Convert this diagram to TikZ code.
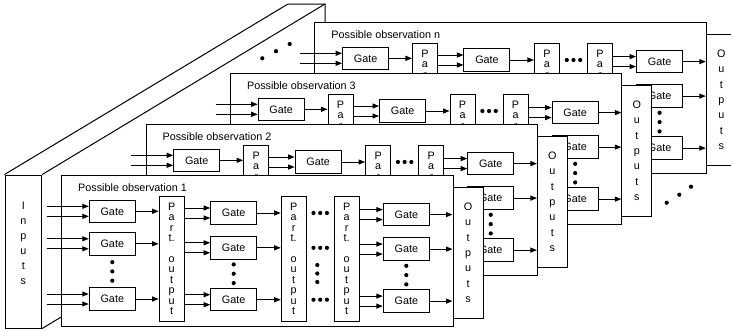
\documentclass[tikz,border=0pt]{standalone}
\usepackage{fontspec}
\setmainfont{Liberation Sans}
\usetikzlibrary{arrows.meta,calc}
\begin{document}
\begin{tikzpicture}[x=1pt,y=-1pt,line width=1pt,
  every node/.style={inner sep=0pt,font=\fontsize{10.8}{13}\selectfont},
  box/.style={draw,fill=white},
  gatebox/.style={box,minimum width=46pt,minimum height=22.5pt},
  partbox/.style={box,minimum width=25pt,minimum height=124.5pt,align=center,font=\fontsize{10.8}{10.4}\selectfont},
  outbox/.style={box,minimum width=30pt,minimum height=131.5pt,align=center,font=\fontsize{10.8}{15.4}\selectfont},
  framebox/.style={box,minimum width=391.3pt,minimum height=151pt},
  arr/.style={-{Triangle[length=6.5pt,width=5pt]}},
]
\useasboundingbox (0,0) rectangle (731,330);
% inputs prism
\node[draw,minimum width=36.7pt,minimum height=153pt] (inputs) at (23.35,251.5) {};
\node[align=center,font=\fontsize{10.8}{15}\selectfont] (inputstext) at (23.35,243.5) {I\\n\\p\\u\\t\\s};
\coordinate (bnw) at (288,4);
\coordinate (bne) at (325,4);
\coordinate (bse) at (325,157);
\draw (inputs.north west) -- (bnw) -- (bne) -- (bse) -- (inputs.south east);
\draw (inputs.north east) -- (bne);
\fill (262.3,58.3) circle (2.1) (276,51.2) circle (2.1) (289.7,44) circle (2.1);
\fill (666.7,202.7) circle (2.1) (679.3,194.7) circle (2.1) (691,186.7) circle (2.1);
% layers, back to front
\foreach \k/\lab in {3/n,2/3,1/2,0/1}{
 \begin{scope}[shift={(84.43*\k,-51*\k)}]
  \node[framebox] (fr\k) at (257.35,250.5) {};
  \node[anchor=base west] (title\k) at (77.7,191.5) {Possible observation \lab};
  \node[outbox] (out\k) at (468,252.75) {O\\u\\t\\p\\u\\t\\s};
  \coordinate (inx\k) at (46.7,0);
  \coordinate (hdx\k) at (320.2,0);
  \foreach \r/\y in {1/211.3,2/243.8,3/299}{\node[gatebox] (g\k-1-\r) at (112.3,\y) {Gate};}
  \foreach \r/\y in {1/213,2/247.8,3/299.7}{\node[gatebox] (g\k-2-\r) at (233.7,\y) {Gate};}
  \foreach \r/\y in {1/214.6,2/249.1,3/301.1}{\node[gatebox] (g\k-3-\r) at (406.3,\y) {Gate};}
  \foreach \i/\x in {1/171.7,2/293.7,3/346.7}{\node[partbox] (p\k-\i) at (\x,258.75) {P\\a\\r\\t.\\[10.4pt]o\\u\\t\\p\\u\\t};}
  \foreach \r in {1,2,3}{
    \draw[arr] ([yshift=5pt]g\k-1-\r.west -| inx\k) -- ([yshift=5pt]g\k-1-\r.west);
    \draw[arr] ([yshift=-5pt]g\k-1-\r.west -| inx\k) -- ([yshift=-5pt]g\k-1-\r.west);
    \draw[arr] (g\k-1-\r.east) -- (g\k-1-\r.east -| p\k-1.west);
    \draw[arr] ([yshift=5pt]g\k-2-\r.west -| p\k-1.east) -- ([yshift=5pt]g\k-2-\r.west);
    \draw[arr] ([yshift=-5pt]g\k-2-\r.west -| p\k-1.east) -- ([yshift=-5pt]g\k-2-\r.west);
    \draw[arr] (g\k-2-\r.east) -- (g\k-2-\r.east -| p\k-2.west);
    \draw[arr] ([yshift=5pt]g\k-3-\r.west -| p\k-3.east) -- ([yshift=5pt]g\k-3-\r.west);
    \draw[arr] ([yshift=-5pt]g\k-3-\r.west -| p\k-3.east) -- ([yshift=-5pt]g\k-3-\r.west);
    \draw[arr] (g\k-3-\r.east) -- (g\k-3-\r.east -| out\k.west);
    \fill ([xshift=-6.7pt]g\k-2-\r.east -| hdx\k) circle (2.1)
          (g\k-2-\r.east -| hdx\k) circle (2.1)
          ([xshift=6.7pt]g\k-2-\r.east -| hdx\k) circle (2.1);
  }
  \foreach \c in {1,2,3}{
    \coordinate (vd\k-\c) at ($(g\k-\c-2.south)!.5!(g\k-\c-3.north)$);
    \fill ([yshift=9.3pt]vd\k-\c) circle (2.1) (vd\k-\c) circle (2.1) ([yshift=-9.3pt]vd\k-\c) circle (2.1);
  }
  \coordinate (vdm\k) at (317.3,273.5);
  \fill ([yshift=8.5pt]vdm\k) circle (2.1) (vdm\k) circle (2.1) ([yshift=-8.5pt]vdm\k) circle (2.1);
 \end{scope}
}
\end{tikzpicture}
\end{document}
